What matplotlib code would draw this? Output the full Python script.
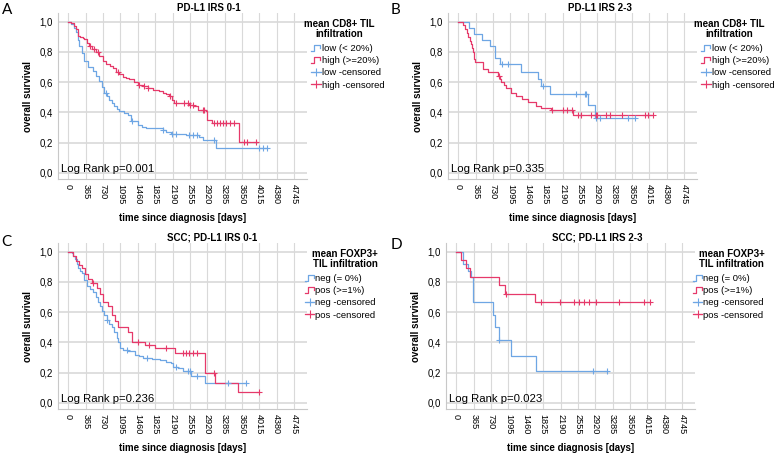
import numpy as np
import matplotlib
matplotlib.use("Agg")
import matplotlib.pyplot as plt
from matplotlib.lines import Line2D
from matplotlib.legend_handler import HandlerBase

plt.rcParams['font.family'] = ['Liberation Sans', 'DejaVu Sans']

BLUE = '#6ea6e4'
RED = '#e6396a'
GRID = '#d9d9d9'

# day ticks on the x axis
day_ticks = np.arange(0, 4746, 365)
surv_ticks = [0.0, 0.2, 0.4, 0.6, 0.8, 1.0]

# ---- panel A : PD-L1 IRS 0-1, CD8+ ----
A_low_t = [0, 60, 110, 161, 200, 231, 280, 336, 420, 511, 580, 651, 700, 756, 810, 861, 920, 966,
           1020, 1071, 1160, 1246, 1316, 1456, 1540, 1631, 1981, 2050, 2156, 2471, 2751, 2821, 3101, 4186]
A_low_s = [1.0, 0.985, 0.96, 0.93, 0.88, 0.84, 0.79, 0.74, 0.70, 0.673, 0.64, 0.607, 0.57, 0.529, 0.51,
           0.484, 0.46, 0.44, 0.42, 0.407, 0.395, 0.384, 0.34, 0.318, 0.305, 0.296, 0.284, 0.27, 0.258,
           0.251, 0.236, 0.218, 0.162, 0.162]
A_low_c = [791, 1330, 1990, 2170, 2261, 2541, 2611, 2695, 3066, 4011, 4095, 4186]
A_high_t = [0, 60, 126, 160, 196, 250, 300, 336, 390, 441, 500, 581, 640, 721, 800, 870, 931, 1000,
            1071, 1150, 1220, 1281, 1370, 1456, 1560, 1666, 1780, 1911, 2000, 2060, 2121, 2180, 2226,
            2541, 2620, 2716, 2891, 2926, 3031, 3591, 3976]
A_high_s = [1.0, 0.99, 0.973, 0.95, 0.907, 0.9, 0.89, 0.884, 0.86, 0.84, 0.82, 0.796, 0.77, 0.74, 0.72,
            0.705, 0.696, 0.67, 0.651, 0.635, 0.625, 0.618, 0.6, 0.584, 0.575, 0.562, 0.55, 0.54, 0.53,
            0.52, 0.507, 0.48, 0.462, 0.451, 0.44, 0.418, 0.407, 0.351, 0.329, 0.207, 0.207]
A_high_c = [460, 530, 616, 1036, 1491, 1590, 1680, 2140, 2261, 2436, 2506, 2560, 2611, 2821, 2856,
            3060, 3120, 3180, 3250, 3320, 3390, 3486, 3696, 3766, 3941]

# ---- panel B : PD-L1 IRS 2-3, CD8+ ----
B_low_t = [0, 231, 337, 498, 674, 779, 880, 1320, 1671, 1741, 1917, 2724, 2864, 3721]
B_low_s = [1.0, 0.96, 0.92, 0.88, 0.84, 0.76, 0.72, 0.67, 0.62, 0.575, 0.52, 0.45, 0.36, 0.36]
B_low_c = [920, 1039, 1776, 2478, 2668, 2689, 2900, 2970, 3566, 3707]
B_high_t = [0, 91, 140, 175, 210, 240, 267, 285, 302, 318, 330, 345, 512, 618, 828, 870, 899, 960,
            1004, 1109, 1214, 1330, 1460, 1636, 1740, 1952, 2408, 4093]
B_high_s = [1.0, 0.975, 0.95, 0.925, 0.9, 0.875, 0.85, 0.825, 0.80, 0.775, 0.75, 0.73, 0.69, 0.665,
            0.64, 0.62, 0.60, 0.58, 0.56, 0.53, 0.51, 0.49, 0.47, 0.44, 0.43, 0.415, 0.38, 0.38]
B_high_c = [850, 1960, 2197, 2289, 2387, 2513, 2583, 2794, 2900, 2920, 3110, 3180, 3447, 3917, 3987, 4093]

# ---- panel C : SCC, PD-L1 IRS 0-1, FOXP3+ ----
C_neg_t = [0, 70, 105, 140, 175, 210, 245, 280, 330, 385, 450, 524, 580, 629, 665, 699, 750, 804, 860,
           909, 960, 1014, 1050, 1083, 1150, 1258, 1398, 1480, 1573, 1750, 1922, 2050, 2167, 2202, 2300,
           2412, 2587, 2867, 3740]
C_neg_s = [1.0, 0.99, 0.97, 0.95, 0.92, 0.89, 0.875, 0.86, 0.81, 0.77, 0.75, 0.73, 0.70, 0.67, 0.64,
           0.61, 0.58, 0.55, 0.525, 0.50, 0.47, 0.43, 0.40, 0.36, 0.35, 0.34, 0.32, 0.31, 0.30, 0.29,
           0.285, 0.27, 0.263, 0.24, 0.23, 0.21, 0.175, 0.135, 0.135]
C_neg_c = [810, 1223, 1643, 2272, 2517, 2566, 2700, 3356, 3740]
C_pos_t = [0, 105, 161, 220, 280, 350, 420, 490, 594, 664, 734, 839, 909, 979, 1048, 1258, 1328, 1607,
           1817, 2237, 2880, 3076, 3565, 4018]
C_pos_s = [1.0, 0.97, 0.94, 0.91, 0.89, 0.85, 0.82, 0.79, 0.76, 0.72, 0.67, 0.64, 0.58, 0.54, 0.50,
           0.47, 0.40, 0.385, 0.36, 0.33, 0.197, 0.13, 0.07, 0.07]
C_pos_c = [524, 1468, 1698, 2061, 2412, 2468, 2538, 2621, 2712, 3060, 4018]

# ---- panel D : SCC, PD-L1 IRS 2-3, FOXP3+ ----
D_neg_t = [0, 140, 245, 315, 350, 770, 819, 896, 1141, 1666, 3164]
D_neg_s = [1.0, 0.917, 0.875, 0.833, 0.667, 0.583, 0.5, 0.417, 0.312, 0.208, 0.208]
D_neg_c = [900, 2884, 3164]
D_pos_t = [0, 105, 196, 294, 896, 1015, 1645, 4081]
D_pos_s = [1.0, 0.944, 0.889, 0.833, 0.778, 0.722, 0.667, 0.667]
D_pos_c = [1050, 1783, 2188, 2467, 2572, 2677, 2782, 2937, 3426, 3950, 4070]

titles = ['PD-L1 IRS 0-1', 'PD-L1 IRS 2-3', 'SCC; PD-L1 IRS 0-1', 'SCC; PD-L1 IRS 2-3']
letters = ['A', 'B', 'C', 'D']
pvalues = ['Log Rank p=0.001', 'Log Rank p=0.335', 'Log Rank p=0.236', 'Log Rank p=0.023']
leg_titles = ['mean CD8+ TIL\ninfiltration', 'mean CD8+ TIL\ninfiltration',
              'mean FOXP3+\nTIL infiltration', 'mean FOXP3+\nTIL infiltration']
cd8_labels = ['low (< 20%)', 'high (>=20%)', 'low -censored', 'high -censored']
foxp3_labels = ['neg (= 0%)', 'pos (>=1%)', 'neg -censored', 'pos -censored']


class StepHandler(HandlerBase):
    # little step-shaped icon like SPSS draws
    def create_artists(self, legend, orig_handle, xdescent, ydescent, width, height, fontsize, trans):
        xs = np.array([0, 0.3, 0.3, 0.95, 0.95]) * width - xdescent
        ys = np.array([0.1, 0.1, 0.9, 0.9, 0.55]) * height - ydescent
        ln = Line2D(xs, ys, color=orig_handle.get_color(), lw=0.9)
        ln.set_transform(trans)
        return [ln]


def surv_at(t, s, c):
    idx = np.searchsorted(t, c, side='right') - 1
    return np.array(s)[idx]


def km_panel(ax, t1, s1, c1, t2, s2, c2, labels, title, ptext, legtitle, title_x, leg_x, legtitle_x):
    l1, = ax.step(t1, s1, where='post', color=BLUE, lw=0.9)
    l2, = ax.step(t2, s2, where='post', color=RED, lw=0.9)
    ax.plot(c1, surv_at(t1, s1, c1), ls='none', marker='+', ms=4, mew=0.8, color=BLUE)
    ax.plot(c2, surv_at(t2, s2, c2), ls='none', marker='+', ms=4, mew=0.8, color=RED)

    ax.set_xlim(-220, 5020)
    ax.set_ylim(-0.04, 1.057)
    ax.set_xticks(day_ticks)
    ax.set_xticklabels([str(d) for d in day_ticks], rotation=270, fontsize=6.6)
    ax.set_yticks(surv_ticks)
    ax.set_yticklabels([('%.1f' % v).replace('.', ',') for v in surv_ticks], fontsize=6.9)
    ax.tick_params(length=0, pad=3.5)
    ax.grid(axis='y', color=GRID, lw=1.2)
    ax.grid(axis='x', color=GRID, lw=0.8)
    ax.set_axisbelow(True)
    for sp in ['top', 'right']:
        ax.spines[sp].set_visible(False)
    for sp in ['left', 'bottom']:
        ax.spines[sp].set_color('#c8c8c8')
        ax.spines[sp].set_linewidth(0.8)

    ax.set_title(title, x=title_x, pad=1, fontsize=7, fontweight='bold')
    ax.set_xlabel('time since diagnosis [days]', fontsize=7, fontweight='bold', labelpad=6)
    ax.set_ylabel('overall survival', fontsize=7, fontweight='bold', labelpad=5)
    ax.text(0.014, 0.044, ptext, transform=ax.transAxes, fontsize=8.2, va='baseline', ha='left')

    cens1 = Line2D([], [], color=BLUE, lw=0.9, marker='+', ms=6, mew=0.8)
    cens2 = Line2D([], [], color=RED, lw=0.9, marker='+', ms=6, mew=0.8)
    ax.legend([l1, l2, cens1, cens2], labels, loc='upper left', bbox_to_anchor=(leg_x, 0.812),
              frameon=False, fontsize=6.8, handlelength=1.0, handletextpad=0.1, labelspacing=0.33,
              borderpad=0, borderaxespad=0,
              handler_map={l1: StepHandler(), l2: StepHandler()})
    ax.text(legtitle_x, 0.905, legtitle, transform=ax.transAxes, fontsize=7, fontweight='bold',
            ha='center', va='center', linespacing=1.05)


fig = plt.figure(figsize=(7.77, 4.54), dpi=100)
W, H = 249 / 777, 166 / 454
axA = fig.add_axes([58 / 777, 1 - 179 / 454, W, H])
axB = fig.add_axes([448 / 777, 1 - 179 / 454, W, H])
axC = fig.add_axes([58 / 777, 1 - 409 / 454, W, H])
axD = fig.add_axes([446 / 777, 1 - 409 / 454, W, H])

km_panel(axA, A_low_t, A_low_s, A_low_c, A_high_t, A_high_s, A_high_c, cd8_labels,
         titles[0], pvalues[0], leg_titles[0], 0.605, 1.018, 1.131)
km_panel(axB, B_low_t, B_low_s, B_low_c, B_high_t, B_high_s, B_high_c, cd8_labels,
         titles[1], pvalues[1], leg_titles[1], 0.612, 1.018, 1.131)
km_panel(axC, C_neg_t, C_neg_s, C_neg_c, C_pos_t, C_pos_s, C_pos_c, foxp3_labels,
         titles[2], pvalues[2], leg_titles[2], 0.62, 0.992, 1.153)
km_panel(axD, D_neg_t, D_neg_s, D_neg_c, D_pos_t, D_pos_s, D_pos_c, foxp3_labels,
         titles[3], pvalues[3], leg_titles[3], 0.608, 0.992, 1.147)

letter_pos = [(0.002, 0.994), (0.503, 0.994), (0.002, 0.482), (0.503, 0.475)]
for lt, (lx, ly) in zip(letters, letter_pos):
    fig.text(lx, ly, lt, fontsize=11, ha='left', va='top', family=['Lato', 'DejaVu Sans'])

fig.savefig('out.png', dpi=100)
